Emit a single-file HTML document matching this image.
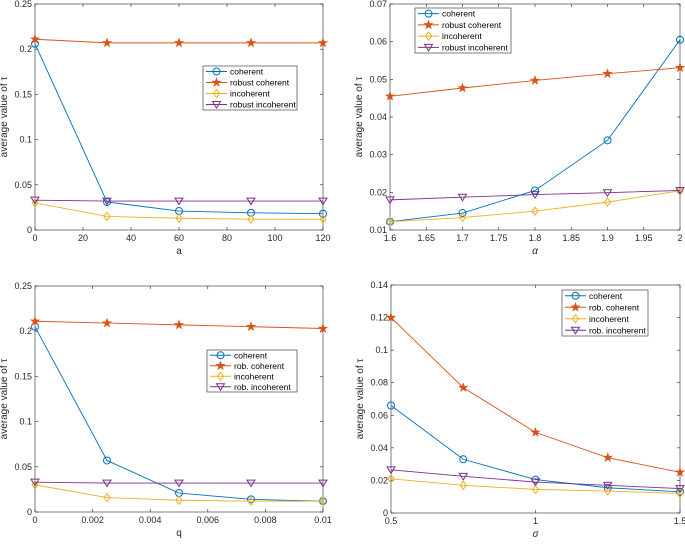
<!DOCTYPE html>
<html><head><meta charset="utf-8">
<style>
body{margin:0;background:#fff;width:685px;height:541px;overflow:hidden}
svg{font-family:"Liberation Sans",sans-serif}
</style></head>
<body>
<svg id="fig" width="685" height="541" xmlns="http://www.w3.org/2000/svg"></svg>
<script>
// Panel (a)
const aX=[0,30,60,90,120];
const aCoh=[0.206,0.031,0.021,0.019,0.018];
const aRob=[0.211,0.207,0.207,0.207,0.207];
const aInc=[0.030,0.015,0.013,0.012,0.012];
const aRobInc=[0.033,0.032,0.032,0.032,0.032];
const aXTicks=[0,20,40,60,80,100,120];
const aXLabels=["0","20","40","60","80","100","120"];
const aYTicks=[0,0.05,0.1,0.15,0.2,0.25];
const aYLabels=["0","0.05","0.1","0.15","0.2","0.25"];
// Panel (alpha)
const bX=[1.6,1.7,1.8,1.9,2.0];
const bCoh=[0.0122,0.0145,0.0205,0.0338,0.0605];
const bRob=[0.0455,0.0477,0.0497,0.0515,0.0531];
const bInc=[0.0122,0.0133,0.0150,0.0174,0.0204];
const bRobInc=[0.0180,0.0187,0.0194,0.0199,0.0205];
const bXTicks=[1.6,1.65,1.7,1.75,1.8,1.85,1.9,1.95,2];
const bXLabels=["1.6","1.65","1.7","1.75","1.8","1.85","1.9","1.95","2"];
const bYTicks=[0.01,0.02,0.03,0.04,0.05,0.06,0.07];
const bYLabels=["0.01","0.02","0.03","0.04","0.05","0.06","0.07"];
// Panel (q)
const cX=[0,0.0025,0.005,0.0075,0.01];
const cCoh=[0.205,0.057,0.021,0.014,0.012];
const cRob=[0.211,0.209,0.207,0.205,0.203];
const cInc=[0.030,0.016,0.013,0.012,0.012];
const cRobInc=[0.033,0.032,0.032,0.032,0.032];
const cXTicks=[0,0.002,0.004,0.006,0.008,0.01];
const cXLabels=["0","0.002","0.004","0.006","0.008","0.01"];
const cYTicks=[0,0.05,0.1,0.15,0.2,0.25];
const cYLabels=["0","0.05","0.1","0.15","0.2","0.25"];
// Panel (sigma)
const dX=[0.5,0.75,1,1.25,1.5];
const dCoh=[0.066,0.033,0.0205,0.0155,0.013];
const dRob=[0.120,0.077,0.0495,0.034,0.025];
const dInc=[0.021,0.017,0.0145,0.0135,0.012];
const dRobInc=[0.0265,0.0225,0.019,0.017,0.015];
const dXTicks=[0.5,1,1.5];
const dXLabels=["0.5","1","1.5"];
const dYTicks=[0,0.02,0.04,0.06,0.08,0.1,0.12,0.14];
const dYLabels=["0","0.02","0.04","0.06","0.08","0.1","0.12","0.14"];

const NS="http://www.w3.org/2000/svg";
const svg=document.getElementById('fig');
const COLORS=["#0072BD","#D95319","#EDB120","#7E2F8E"];
const MARK=["circle","star","diamond","tri"];
function el(tag,attrs,parent){const e=document.createElementNS(NS,tag);for(const k in attrs)e.setAttribute(k,attrs[k]);(parent||svg).appendChild(e);return e;}
function marker(g,type,x,y,c){
  let m;
  if(type==="circle")m=el('circle',{cx:x,cy:y,r:3.5,fill:'none',stroke:c,'stroke-width':1},g);
  else if(type==="star"){let p=[];for(let i=0;i<10;i++){const r=i%2?1.8:4.5,a=-Math.PI/2+i*Math.PI/5;p.push((x+r*Math.cos(a)).toFixed(1)+','+(y+r*Math.sin(a)).toFixed(1));}m=el('polygon',{points:p.join(' '),fill:c,stroke:c,'stroke-width':0.6},g);}
  else if(type==="diamond")m=el('polygon',{points:`${x},${y-4} ${x+3},${y} ${x},${y+4} ${x-3},${y}`,fill:'none',stroke:c,'stroke-width':1},g);
  else m=el('polygon',{points:`${x-4},${y-3} ${x+4},${y-3} ${x},${y+3.5}`,fill:'none',stroke:c,'stroke-width':1},g);
  
  
}
function panel(name,box,xd,yd,xs,series,xT,xL,yT,yL,xlabel,xItalic,leg,names){
  const g=el('g',{});
  
  
  const X=v=>box.x0+(v-xd[0])/(xd[1]-xd[0])*(box.x1-box.x0);
  const Y=v=>box.y1-(v-yd[0])/(yd[1]-yd[0])*(box.y1-box.y0);
  const fr=el('rect',{x:box.x0,y:box.y0,width:box.x1-box.x0,height:box.y1-box.y0,fill:'#fff',stroke:'#262626','stroke-width':0.6},g);
  
  
  xT.forEach((t,i)=>{const x=X(t);
    el('line',{x1:x,y1:box.y1,x2:x,y2:box.y1-3,stroke:'#262626','stroke-width':0.6},g);
    el('line',{x1:x,y1:box.y0,x2:x,y2:box.y0+3,stroke:'#262626','stroke-width':0.6},g);
    const tx=el('text',{x:x,y:box.y1+11,'font-size':9,'text-anchor':'middle',fill:'#262626'},g);tx.textContent=xL[i];
    
    });
  yT.forEach((t,i)=>{const y=Y(t);
    el('line',{x1:box.x0,y1:y,x2:box.x0+3,y2:y,stroke:'#262626','stroke-width':0.6},g);
    el('line',{x1:box.x1,y1:y,x2:box.x1-3,y2:y,stroke:'#262626','stroke-width':0.6},g);
    const tx=el('text',{x:box.x0-3,y:y+3,'font-size':9,'text-anchor':'end',fill:'#262626'},g);tx.textContent=yL[i];
    
    });
  const xl=el('text',{x:(box.x0+box.x1)/2,y:box.y1+24,'font-size':10,'text-anchor':'middle',fill:'#262626','font-style':xItalic?'italic':'normal'},g);xl.textContent=xlabel;
  
  
  const yc=(box.y0+box.y1)/2, yx=box.x0-28;
  const yl=el('text',{x:yx,y:yc,'font-size':10,'text-anchor':'middle',fill:'#262626',transform:`rotate(-90 ${yx} ${yc})`},g);
  yl.textContent='average value of τ';
  
  
  series.forEach((s,k)=>{
    const pl=el('polyline',{points:s.map((v,i)=>X(xs[i])+','+Y(v)).join(' '),fill:'none',stroke:COLORS[k],'stroke-width':0.9},g);
    
    
    s.forEach((v,i)=>marker(g,MARK[k],X(xs[i]),Y(v),COLORS[k]));
  });
  const lg=el('g',{},g);
  
  
  el('rect',{x:leg.x,y:leg.y,width:leg.w,height:leg.h,fill:'#fff',stroke:'#262626','stroke-width':0.6},lg);
  const rh=leg.h/4;
  names.forEach((n,k)=>{const cy=leg.y+rh*(k+0.5);
    el('line',{x1:leg.x+3,y1:cy,x2:leg.x+24,y2:cy,stroke:COLORS[k],'stroke-width':0.9},lg);
    marker(lg,MARK[k],leg.x+13.5,cy,COLORS[k]);
    const t=el('text',{x:leg.x+27,y:cy+3,'font-size':8.5,fill:'#000'},lg);t.textContent=n;
    
    });
}
const N1=["coherent","robust coherent","incoherent","robust incoherent"];
const N2=["coherent","rob. coherent","incoherent","rob. incoherent"];
panel('chart-a',{x0:35,x1:323,y0:4,y1:230},[0,120],[0,0.25],aX,[aCoh,aRob,aInc,aRobInc],aXTicks,aXLabels,aYTicks,aYLabels,'a',false,{x:203,y:66,w:94,h:44},N1);
panel('chart-alpha',{x0:390,x1:680,y0:4,y1:230},[1.6,2],[0.01,0.07],bX,[bCoh,bRob,bInc,bRobInc],bXTicks,bXLabels,bYTicks,bYLabels,'α',true,{x:415,y:8,w:96,h:45},N1);
panel('chart-q',{x0:35,x1:323,y0:286,y1:512},[0,0.01],[0,0.25],cX,[cCoh,cRob,cInc,cRobInc],cXTicks,cXLabels,cYTicks,cYLabels,'q',false,{x:207,y:350,w:90,h:42},N2);
panel('chart-sigma',{x0:391,x1:680,y0:285,y1:513},[0.5,1.5],[0,0.14],dX,[dCoh,dRob,dInc,dRobInc],dXTicks,dXLabels,dYTicks,dYLabels,'σ',true,{x:562,y:290,w:86,h:46},N2);
</script>
</body></html>
